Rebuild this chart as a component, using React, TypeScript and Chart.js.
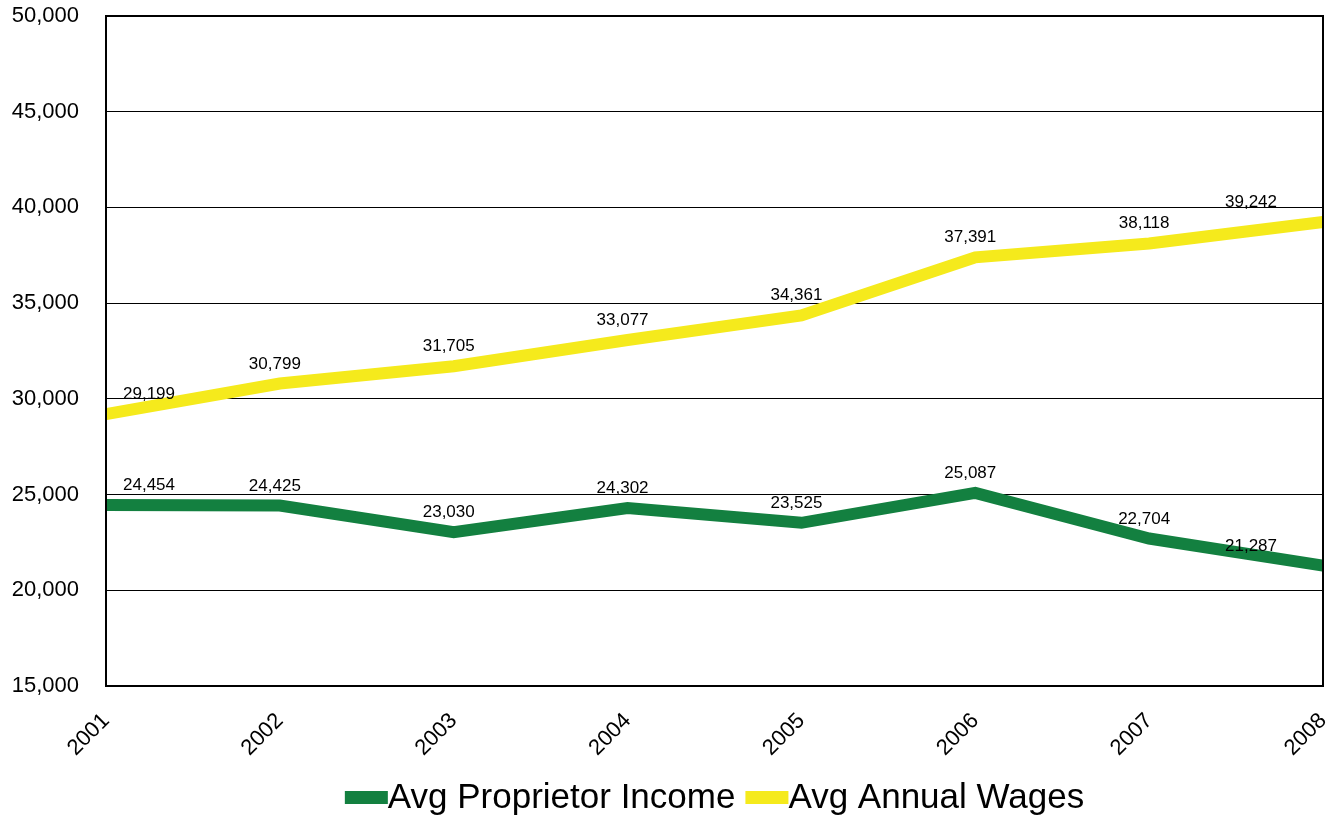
import React, { useEffect, useRef } from "react";
import { Chart, registerables } from "chart.js";

Chart.register(...registerables);

const years = ["2001", "2002", "2003", "2004", "2005", "2006", "2007", "2008"];
const proprietorIncome = [24454, 24425, 23030, 24302, 23525, 25087, 22704, 21287];
const annualWages = [29199, 30799, 31705, 33077, 34361, 37391, 38118, 39242];
const yTicks = [15000, 20000, 25000, 30000, 35000, 40000, 45000, 50000];

const GREEN = "#138040";
const YELLOW = "#f5ea1c";
const FONT = "'Liberation Sans', Arial, sans-serif";

const fmt = (v: number) => v.toLocaleString("en-US");

const framePlugin = {
  id: "frame",
  afterDraw(chart: any) {
    const { ctx, chartArea } = chart;
    ctx.save();
    ctx.strokeStyle = "#000";
    ctx.lineWidth = 2;
    ctx.strokeRect(chartArea.left, chartArea.top, chartArea.right - chartArea.left, chartArea.bottom - chartArea.top);
    ctx.restore();
  },
};

const labelPlugin = {
  id: "pointLabels",
  afterDatasetsDraw(chart: any) {
    const { ctx, chartArea } = chart;
    ctx.save();
    ctx.font = `17px ${FONT}`;
    ctx.fillStyle = "#000";
    ctx.textBaseline = "alphabetic";
    ctx.textAlign = "center";
    chart.data.datasets.forEach((ds: any, di: number) => {
      const meta = chart.getDatasetMeta(di);
      meta.data.forEach((pt: any, i: number) => {
        const text = fmt(ds.data[i]);
        const w = ctx.measureText(text).width;
        let x = pt.x - 5;
        if (x - w / 2 < chartArea.left + 17) x = chartArea.left + 17 + w / 2;
        if (x + w / 2 > chartArea.right - 46) x = chartArea.right - 46 - w / 2;
        ctx.fillText(text, x, pt.y - 15);
      });
    });
    ctx.restore();
  },
};

const legendPlugin = {
  id: "customLegend",
  afterDraw(chart: any) {
    const { ctx, chartArea } = chart;
    ctx.save();
    ctx.font = `35px ${FONT}`;
    ctx.textBaseline = "alphabetic";
    ctx.textAlign = "left";
    const boxW = 43;
    const boxH = 13;
    const gap = 10;
    const items = chart.data.datasets.map((d: any) => ({
      text: d.label,
      color: d.borderColor,
      w: ctx.measureText(d.label).width,
    }));
    const total = items.reduce((a: number, it: any) => a + boxW + it.w, 0) + gap * (items.length - 1);
    let x = (chartArea.left + chartArea.right) / 2 - total / 2;
    const baseline = 808;
    items.forEach((it: any) => {
      ctx.fillStyle = it.color;
      ctx.fillRect(x, 791, boxW, boxH);
      ctx.fillStyle = "#000";
      ctx.fillText(it.text, x + boxW, baseline);
      x += boxW + it.w + gap;
    });
    ctx.restore();
  },
};

export default function App() {
  const ref = useRef<HTMLCanvasElement>(null);
  useEffect(() => {
    if (!ref.current) return;
    const chart = new Chart(ref.current, {
      type: "line",
      data: {
        labels: years,
        datasets: [
          {
            label: "Avg Proprietor Income",
            data: proprietorIncome,
            borderColor: GREEN,
            backgroundColor: GREEN,
            borderWidth: 12,
            pointRadius: 0,
            tension: 0,
            clip: false as any,
          },
          {
            label: "Avg Annual Wages",
            data: annualWages,
            borderColor: YELLOW,
            backgroundColor: YELLOW,
            borderWidth: 12,
            pointRadius: 0,
            tension: 0,
            clip: false as any,
          },
        ],
      },
      options: {
        animation: false,
        responsive: false,
        maintainAspectRatio: false,
        layout: { padding: { top: 16, right: 16, left: 0, bottom: 0 } },
        plugins: {
          tooltip: { enabled: false },
          legend: { display: false },
        },
        scales: {
          x: {
            offset: false,
            grid: { display: false, drawTicks: false },
            border: { display: true, color: "#000", width: 2 },
            ticks: {
              font: { family: FONT, size: 22 },
              color: "#000",
              maxRotation: 45,
              minRotation: 45,
              padding: 22,
            },
            afterFit: (s: any) => {
              s.height = 138;
              s.paddingLeft = 0;
              s.paddingRight = 0;
              s.paddingTop = 0;
              s.paddingBottom = 0;
            },
          },
          y: {
            min: 15000,
            max: 50000,
            grid: { color: "#000", lineWidth: 1, drawTicks: false },
            border: { display: true, color: "#000", width: 2 },
            afterBuildTicks: (s: any) => {
              s.ticks = yTicks.map((v) => ({ value: v }));
            },
            ticks: {
              font: { family: FONT, size: 22 },
              color: "#000",
              padding: 27,
              callback: (v: any) => fmt(Number(v)),
            },
            afterFit: (s: any) => {
              s.width = 106;
              s.paddingTop = 0;
              s.paddingBottom = 0;
              s.paddingLeft = 0;
              s.paddingRight = 0;
            },
          },
        },
      },
      plugins: [framePlugin, labelPlugin, legendPlugin],
    });
    return () => chart.destroy();
  }, []);
  return (
    <div style={{ position: "fixed", left: 0, top: 0, width: 1339, height: 824, background: "#fff" }}>
      <canvas ref={ref} width={1339} height={824} style={{ width: 1339, height: 824 }} />
    </div>
  );
}
